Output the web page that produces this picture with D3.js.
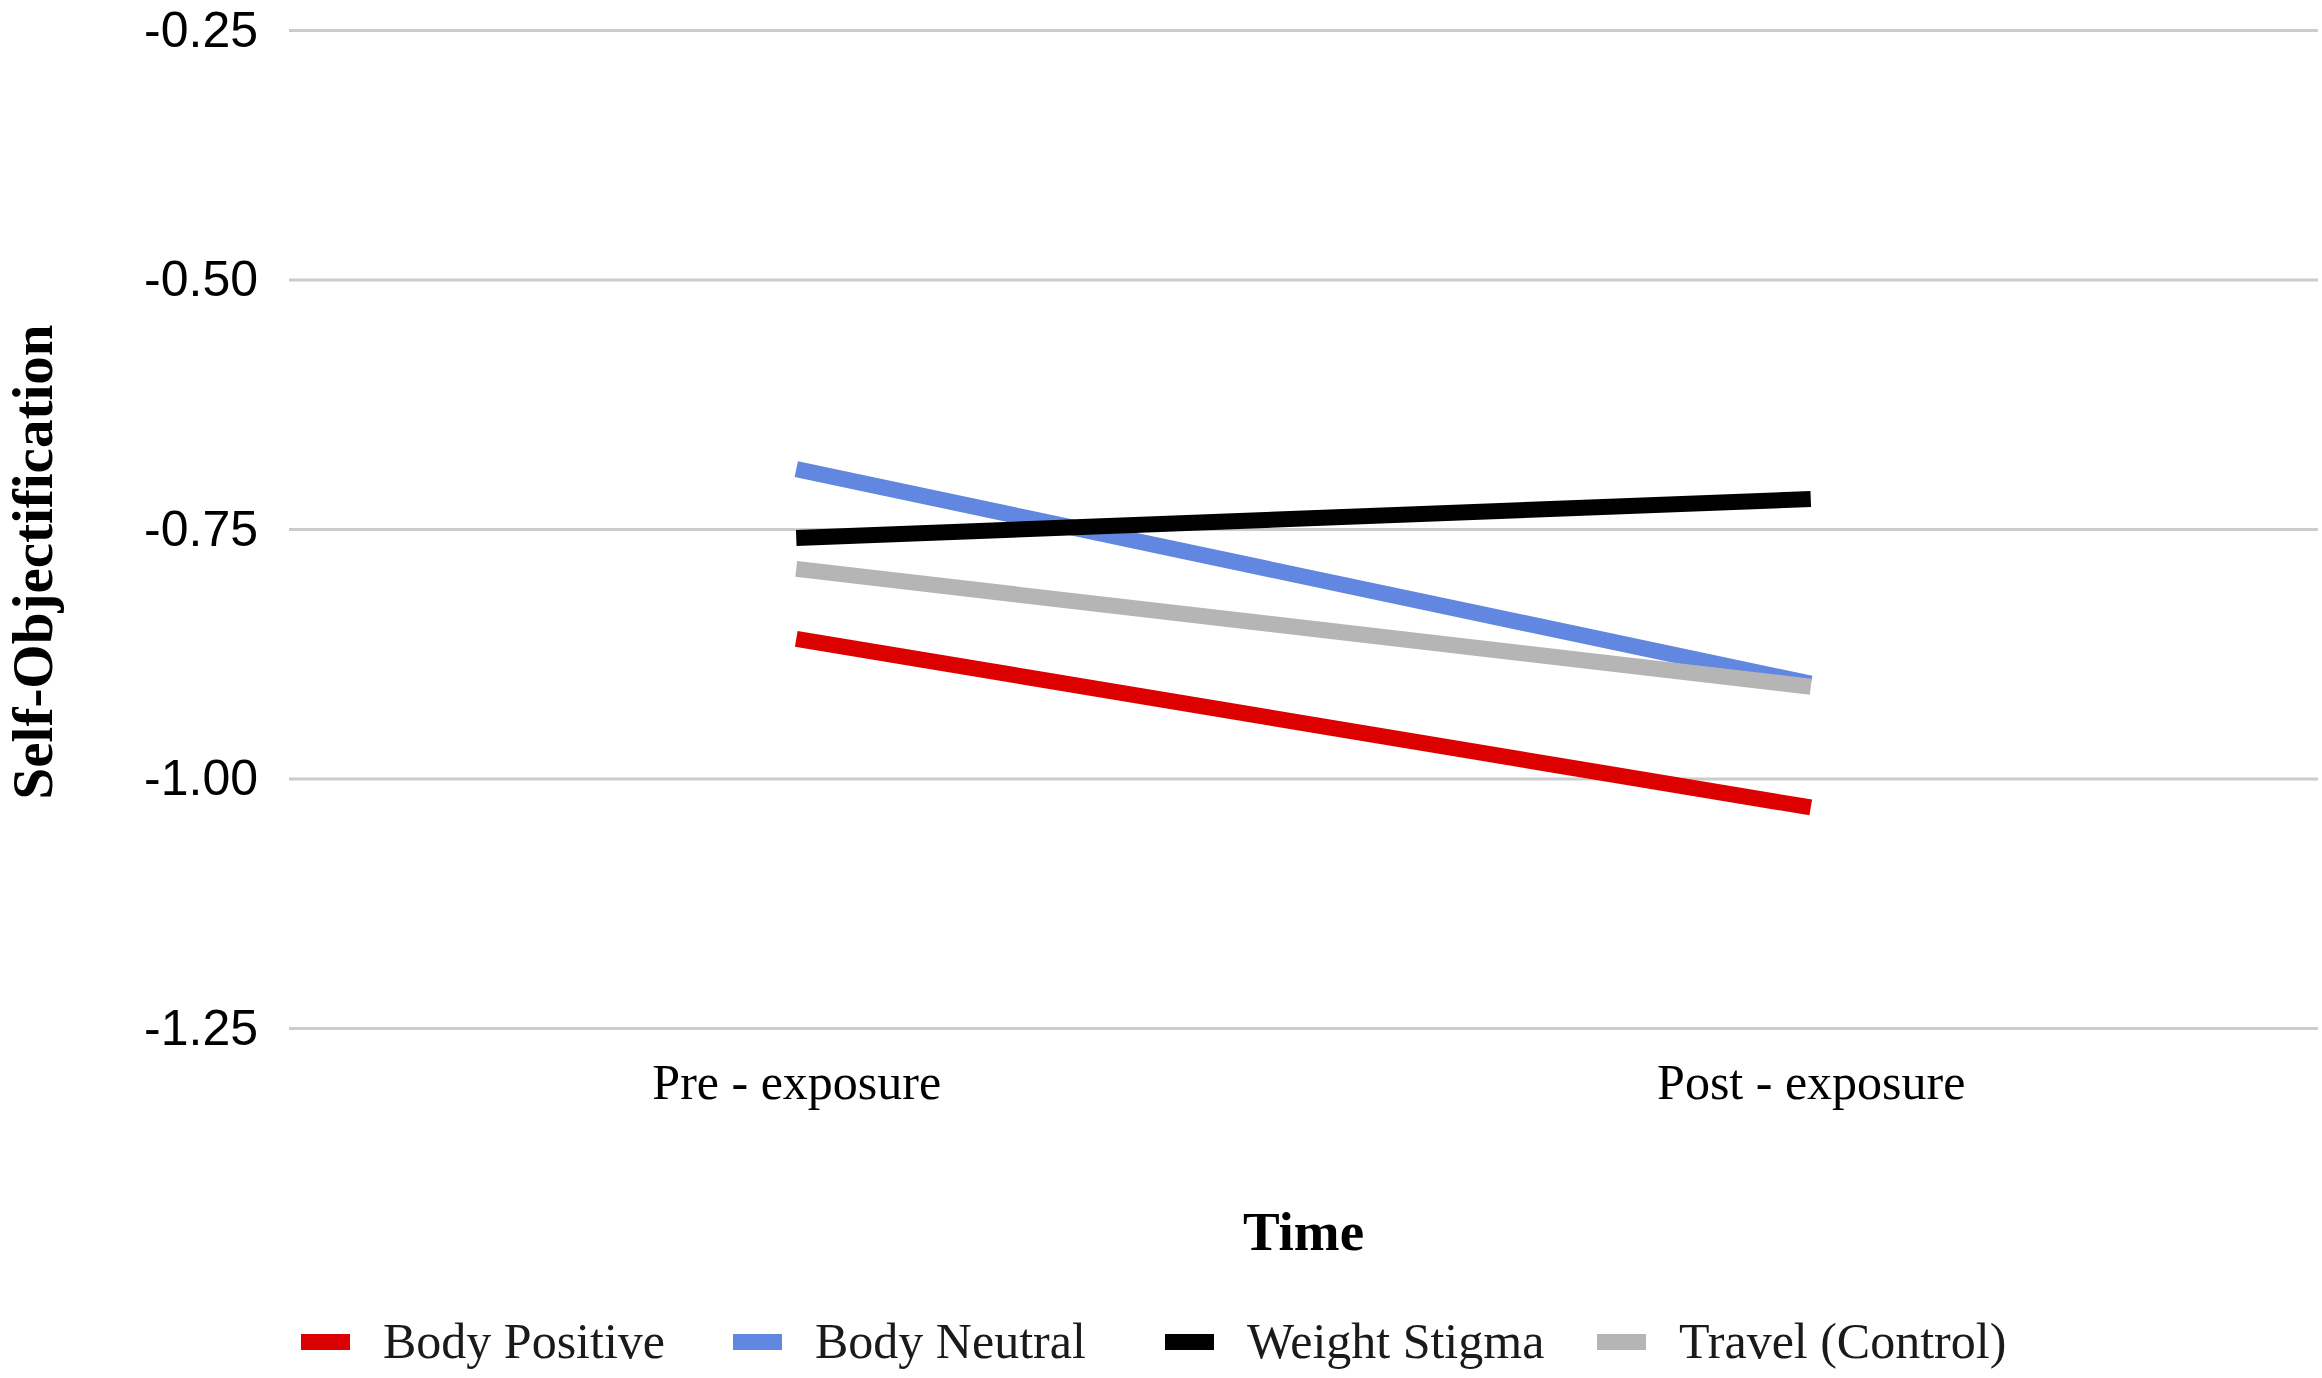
<!DOCTYPE html>
<meta charset="utf-8">
<script src="https://d3js.org/d3.v7.min.js"></script>
<style>
  body { margin: 0; background: #fff; }
</style>
<div id="my_dataviz"></div>
<script>

// data
var times = ["Pre - exposure", "Post - exposure"];
var groups = ["Body Positive", "Body Neutral", "Weight Stigma", "Travel (Control)"];
var bodyPositive = [-0.86, -1.029];
var bodyNeutral = [-0.69, -0.905];
var weightStigma = [-0.759, -0.72];
var travelControl = [-0.79, -0.908];
var yTicks = [-0.25, -0.50, -0.75, -1.00, -1.25];
var colors = ["#dd0000", "#6287e1", "#000000", "#b5b5b5"];

var series = [bodyPositive, bodyNeutral, weightStigma, travelControl];

var width = 2322, height = 1378;
var margin = {top: 30, right: 4, bottom: 350, left: 289};

var svg = d3.select("#my_dataviz")
  .append("svg")
    .attr("width", width)
    .attr("height", height);

var x = d3.scalePoint()
  .domain(times)
  .range([margin.left, width - margin.right])
  .padding(0.5);

var y = d3.scaleLinear()
  .domain([-1.25, -0.25])
  .range([height - margin.bottom, margin.top]);

// gridlines + y labels (plain hyphen, like the original)
var yAxis = svg.append("g")
  .attr("transform", "translate(" + margin.left + ",0)")
  .call(d3.axisLeft(y)
    .tickValues(yTicks)
    .tickSize(-(width - margin.left - margin.right))
    .tickPadding(31)
    .tickFormat(function (d) { return d.toFixed(2); }));
yAxis.select(".domain").remove();
yAxis.selectAll(".tick line")
  .attr("stroke", "#cccccc")
  .attr("stroke-width", 3);
yAxis.selectAll(".tick text")
  .attr("fill", "#000")
  .style("font-family", "'Liberation Sans', Arial, sans-serif")
  .style("font-size", "50px");

// x labels
var xAxis = svg.append("g")
  .attr("transform", "translate(0," + (height - margin.bottom) + ")")
  .call(d3.axisBottom(x).tickSize(0).tickPadding(35));
xAxis.select(".domain").remove();
xAxis.selectAll(".tick text")
  .attr("fill", "#000")
  .attr("dy", "0.71em")
  .style("font-family", "'Liberation Serif', 'Times New Roman', serif")
  .style("font-size", "50px");

// lines
var line = d3.line()
  .x(function (d, i) { return x(times[i]); })
  .y(function (d) { return y(d); });

svg.append("g")
  .selectAll("path")
  .data(series)
  .enter()
  .append("path")
    .attr("d", line)
    .attr("fill", "none")
    .attr("stroke", function (d, i) { return colors[i]; })
    .attr("stroke-width", 16)
    .attr("stroke-linecap", "butt");

// axis titles
svg.append("text")
  .attr("x", (margin.left + width - margin.right) / 2)
  .attr("y", 1250)
  .attr("text-anchor", "middle")
  .style("font-family", "'Liberation Serif', 'Times New Roman', serif")
  .style("font-weight", "bold")
  .style("font-size", "55px")
  .text("Time");

svg.append("text")
  .attr("transform", "translate(52,562) rotate(-90)")
  .attr("text-anchor", "middle")
  .style("font-family", "'Liberation Serif', 'Times New Roman', serif")
  .style("font-weight", "bold")
  .style("font-size", "57px")
  .text("Self-Objectification");

// legend
var legend = svg.append("g")
  .selectAll("g")
  .data(groups)
  .enter()
  .append("g")
    .attr("transform", function (d, i) { return "translate(" + (301 + i * 432) + ",1342)"; });

legend.append("rect")
  .attr("x", 0)
  .attr("y", -8)
  .attr("width", 49)
  .attr("height", 16)
  .attr("fill", function (d, i) { return colors[i]; });

legend.append("text")
  .attr("x", 82)
  .attr("y", 16)
  .style("font-family", "'Liberation Serif', 'Times New Roman', serif")
  .style("font-size", "50px")
  .attr("fill", "#1a1a1a")
  .text(function (d) { return d; });

</script>
